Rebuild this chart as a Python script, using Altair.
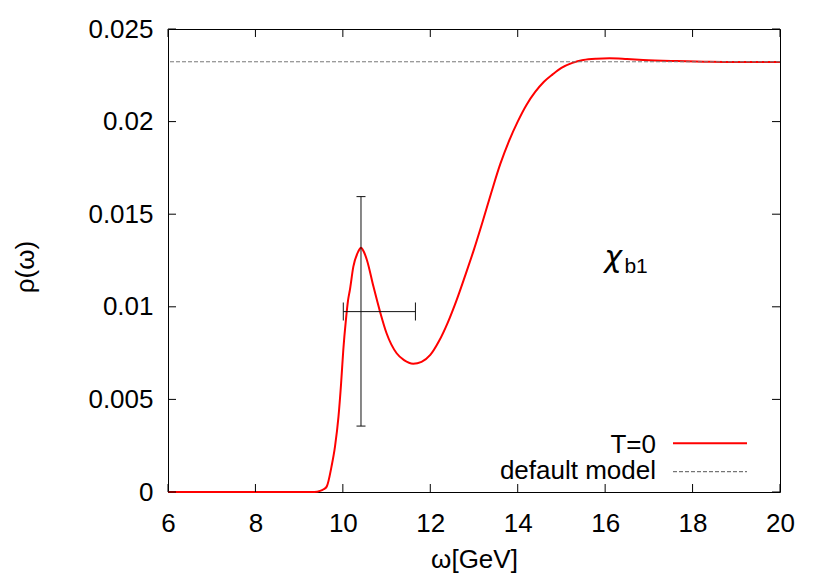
import altair as alt
import pandas as pd

# ---- data ----
omega = [6.0, 9.35, 9.48, 9.56, 9.63, 9.74, 9.82, 9.90, 9.96, 10.01, 10.07, 10.12, 10.16,
         10.24, 10.35, 10.415, 10.48, 10.55, 10.70, 10.85, 11.00, 11.23, 11.40, 11.61,
         11.80, 12.00, 12.20, 12.40, 12.60, 12.80, 13.00, 13.20, 13.40, 13.60, 13.80,
         14.00, 14.20, 14.40, 14.60, 14.80, 15.00, 15.25, 15.50, 15.80, 16.10, 16.50,
         16.87, 17.63, 18.40, 19.20, 20.0]
rho = [0.0, 0.0, 0.00006, 0.00015, 0.00029, 0.00137, 0.00245, 0.00407, 0.00587, 0.00767,
       0.00929, 0.01037, 0.01090, 0.01217, 0.01297, 0.01319, 0.01297, 0.01253, 0.01109,
       0.00974, 0.00857, 0.00749, 0.00712, 0.00693,
       0.00703, 0.00740, 0.00815, 0.00915, 0.01035, 0.01170, 0.01310, 0.01462, 0.01620,
       0.01770, 0.01895, 0.02000, 0.02090, 0.02160, 0.02215, 0.02255, 0.02290, 0.02317,
       0.02333, 0.02340, 0.02342, 0.02338, 0.02333, 0.02327, 0.02323, 0.02322, 0.02322]
default_model = [0.02323]
err_x_center = [10.415]
err_y_center = [0.00974]
err_x_range = [10.01, 11.66]
err_y_range = [0.00356, 0.01595]
x_ticks = [6, 8, 10, 12, 14, 16, 18, 20]
y_ticks = [0, 0.005, 0.01, 0.015, 0.02, 0.025]
label_main = ["χ"]
label_sub = ["b1"]
label_main_pos = [15.98, 0.01215]
label_sub_pos = [16.44, 0.01181]
legend_labels = ["T=0", "default model"]

W, H = 612, 463
FONT = "Liberation Sans"
FS = 26

xs = alt.Scale(domain=[6, 20], nice=False, zero=False)
ys = alt.Scale(domain=[0, 0.025], nice=False, zero=False)

x_axis = alt.Axis(values=x_ticks, title="ω[GeV]", labelPadding=18, labelFlush=False,
                  titleY=75, titleBaseline="alphabetic")
y_axis = alt.Axis(values=y_ticks, format=".3~f", title="ρ(ω)", labelPadding=15,
                  labelFlush=False, titleX=-143, titleY=237.5, titleAngle=270,
                  titleAlign="center", titleBaseline="middle")


def X(field="omega"):
    return alt.X(f"{field}:Q", scale=xs, axis=x_axis, title="ω[GeV]")


def Y(field="rho"):
    return alt.Y(f"{field}:Q", scale=ys, axis=y_axis, title="ρ(ω)")


curve_df = pd.DataFrame({"omega": omega, "rho": rho})

curve = alt.Chart(curve_df).mark_line(
    color="#ff0000", strokeWidth=2, interpolate="monotone"
).encode(x=X(), y=Y())

dm = alt.Chart(pd.DataFrame({"rho": default_model})).mark_rule(
    color="#777777", strokeDash=[4, 2], strokeWidth=1
).encode(y=Y())

ev = alt.Chart(pd.DataFrame({"omega": err_x_center, "rho": [err_y_range[0]],
                             "rho2": [err_y_range[1]]})).mark_rule(
    color="#111111", strokeWidth=1
).encode(x=X(), y=Y(), y2="rho2:Q")

eh = alt.Chart(pd.DataFrame({"omega": [err_x_range[0]], "omega2": [err_x_range[1]],
                             "rho": err_y_center})).mark_rule(
    color="#111111", strokeWidth=1
).encode(x=X(), x2="omega2:Q", y=Y())

cap_v = alt.Chart(pd.DataFrame({"omega": err_x_center * 2, "rho": err_y_range})).mark_tick(
    orient="horizontal", size=9, thickness=1, color="#111111", opacity=1
).encode(x=X(), y=Y())

cap_h = alt.Chart(pd.DataFrame({"omega": err_x_range, "rho": err_y_center * 2})).mark_tick(
    orient="vertical", size=18, thickness=1, color="#111111", opacity=1
).encode(x=X(), y=Y())

xt = pd.DataFrame({"omega": x_ticks})
yt = pd.DataFrame({"rho": y_ticks})
TL = 8
tick_b = alt.Chart(xt).mark_rule(color="black", strokeWidth=1).encode(
    x=X(), y=alt.value(H), y2=alt.value(H - TL))
tick_t = alt.Chart(xt).mark_rule(color="black", strokeWidth=1).encode(
    x=X(), y=alt.value(0), y2=alt.value(TL))
tick_l = alt.Chart(yt).mark_rule(color="black", strokeWidth=1).encode(
    y=Y(), x=alt.value(0), x2=alt.value(TL))
tick_r = alt.Chart(yt).mark_rule(color="black", strokeWidth=1).encode(
    y=Y(), x=alt.value(W - TL), x2=alt.value(W))

ann_main = alt.Chart(pd.DataFrame({"omega": [label_main_pos[0]], "rho": [label_main_pos[1]],
                                   "t": label_main})).mark_text(
    align="left", baseline="alphabetic", fontSize=30, font="DejaVu Sans",
    fontStyle="italic", color="black"
).encode(x=X(), y=Y(), text="t:N")
ann_sub = alt.Chart(pd.DataFrame({"omega": [label_sub_pos[0]], "rho": [label_sub_pos[1]],
                                  "t": label_sub})).mark_text(
    align="left", baseline="alphabetic", fontSize=21, font=FONT, color="black"
).encode(x=X(), y=Y(), text="t:N")

one = pd.DataFrame({"a": [0]})
leg_t0 = alt.Chart(one).mark_text(
    text=legend_labels[0], align="right", baseline="middle", fontSize=FS, font=FONT, color="black"
).encode(x=alt.value(488), y=alt.value(416))
leg_l0 = alt.Chart(one).mark_rule(color="#ff0000", strokeWidth=2).encode(
    x=alt.value(505), x2=alt.value(579), y=alt.value(414.3))
leg_t1 = alt.Chart(one).mark_text(
    text=legend_labels[1], align="right", baseline="middle", fontSize=FS, font=FONT, color="black"
).encode(x=alt.value(488), y=alt.value(442))
leg_l1 = alt.Chart(one).mark_rule(color="#555555", strokeDash=[4, 2], strokeWidth=1).encode(
    x=alt.value(505), x2=alt.value(579), y=alt.value(442.7))

chart = alt.layer(
    curve, dm, ev, eh, cap_v, cap_h, tick_b, tick_t, tick_l, tick_r,
    ann_main, ann_sub, leg_t0, leg_l0, leg_t1, leg_l1
).properties(
    width=W, height=H,
    autosize=alt.AutoSizeParams(type="none"),
    padding={"left": 160, "top": 21, "right": 42, "bottom": 81},
    background="white",
).configure_view(
    stroke="black", strokeWidth=1
).configure_axis(
    ticks=False, domain=False, grid=False,
    labelFont=FONT, labelFontSize=FS, labelColor="black",
    titleFont=FONT, titleFontSize=FS, titleFontWeight="normal", titleColor="black",
    labelOverlap=False,
)

chart.save("out.html", embed_options={"renderer": "svg", "actions": False})
